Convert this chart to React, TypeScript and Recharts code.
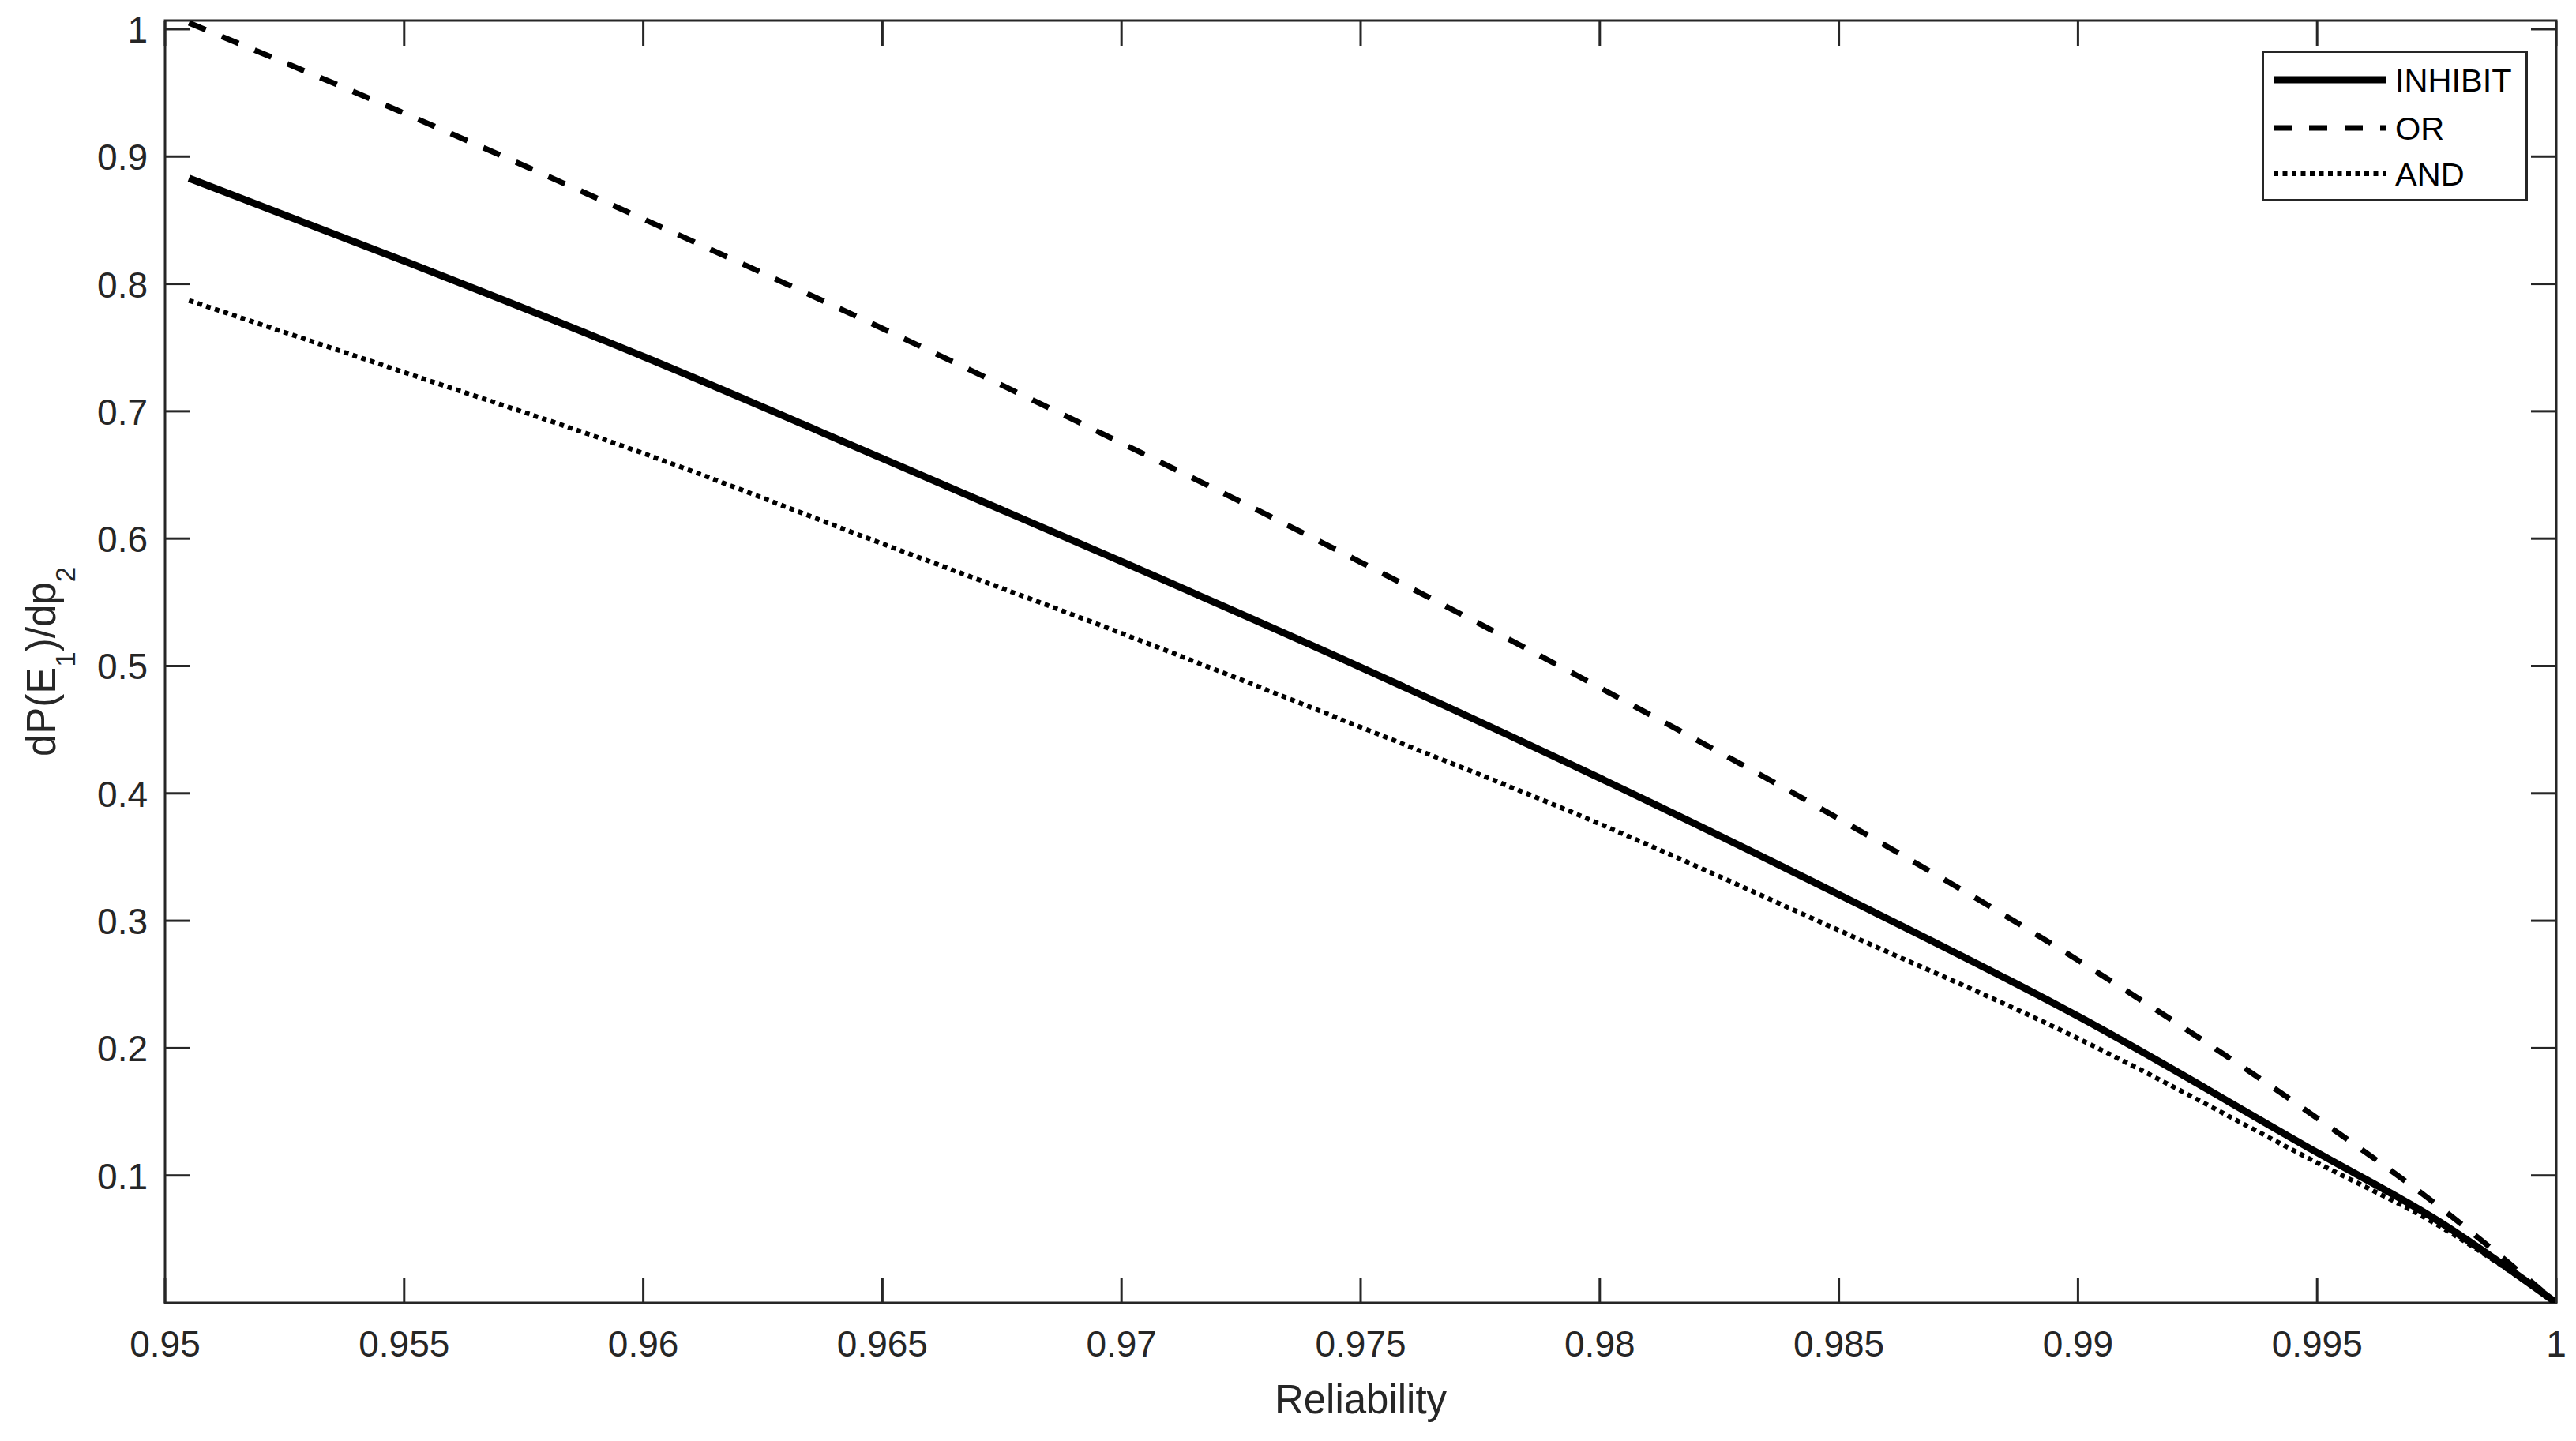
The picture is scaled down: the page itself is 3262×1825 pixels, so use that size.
import React from 'react';
import { LineChart, Line, XAxis, YAxis, ReferenceArea, Legend, Label } from 'recharts';

// ---- data ----
const reliability = [0.9505, 0.955, 0.96, 0.965, 0.97, 0.975, 0.98, 0.985, 0.99, 0.995, 0.9975, 1];
const inhibitValues = [0.883, 0.818, 0.743, 0.663, 0.582, 0.499, 0.412, 0.3205, 0.225, 0.118, 0.065, 0];
const orValues = [1.005, 0.934, 0.851, 0.765, 0.675, 0.5815, 0.483, 0.38, 0.269, 0.145, 0.077, 0];
const andValues = [0.787, 0.7306, 0.667, 0.596, 0.5257, 0.452, 0.376, 0.2925, 0.2076, 0.11, 0.0615, 0];

const xTicks = [0.95, 0.955, 0.96, 0.965, 0.97, 0.975, 0.98, 0.985, 0.99, 0.995, 1];
const xTickLabels = ['0.95', '0.955', '0.96', '0.965', '0.97', '0.975', '0.98', '0.985', '0.99', '0.995', '1'];
const yTicks = [0.1, 0.2, 0.3, 0.4, 0.5, 0.6, 0.7, 0.8, 0.9, 1];
const yTickLabels = ['0.1', '0.2', '0.3', '0.4', '0.5', '0.6', '0.7', '0.8', '0.9', '1'];
const seriesNames = ['INHIBIT', 'OR', 'AND'];

const data = reliability.map((r, i) => ({
  r,
  INHIBIT: inhibitValues[i],
  OR: orValues[i],
  AND: andValues[i],
}));

// ---- layout / style ----
const W = 3262;
const H = 1825;
const MARGIN = { top: 26, right: 25, bottom: 75, left: 59 };
const Y_AXIS_W = 150;
const X_AXIS_H = 100;
const PLOT_LEFT = MARGIN.left + Y_AXIS_W;
const PLOT_TOP = MARGIN.top;
const PLOT_W = W - PLOT_LEFT - MARGIN.right;
const PLOT_H = H - MARGIN.top - MARGIN.bottom - X_AXIS_H;
const TICK_LEN = 32;
const AXIS_COLOR = '#262626';
const FONT = '"Liberation Sans", Arial, Helvetica, sans-serif';

const styles: Record<string, { width: number; dash?: string }> = {
  INHIBIT: { width: 9 },
  OR: { width: 7, dash: '23 22' },
  AND: { width: 6, dash: '6 5.5' },
};

const XTick = (props: any) => {
  const { x, y, payload } = props;
  const idx = xTicks.indexOf(payload.value);
  const label = idx >= 0 ? xTickLabels[idx] : String(payload.value);
  return (
    <g>
      <line x1={x} y1={y} x2={x} y2={y - TICK_LEN} stroke={AXIS_COLOR} strokeWidth={3} />
      <line x1={x} y1={y - PLOT_H} x2={x} y2={y - PLOT_H + TICK_LEN} stroke={AXIS_COLOR} strokeWidth={3} />
      <text x={x} y={y + 68} textAnchor="middle" fontSize={46} fontFamily={FONT} fill={AXIS_COLOR}>
        {label}
      </text>
    </g>
  );
};

const YTick = (props: any) => {
  const { x, y, payload } = props;
  const idx = yTicks.indexOf(payload.value);
  const label = idx >= 0 ? yTickLabels[idx] : String(payload.value);
  return (
    <g>
      <line x1={x} y1={y} x2={x + TICK_LEN} y2={y} stroke={AXIS_COLOR} strokeWidth={3} />
      <line x1={x + PLOT_W} y1={y} x2={x + PLOT_W - TICK_LEN} y2={y} stroke={AXIS_COLOR} strokeWidth={3} />
      <text x={x - 22} y={y + 17} textAnchor="end" fontSize={46} fontFamily={FONT} fill={AXIS_COLOR}>
        {label}
      </text>
    </g>
  );
};

const YLabel = () => {
  const cx = 70;
  const cy = PLOT_TOP + PLOT_H / 2;
  return (
    <text
      x={cx}
      y={cy}
      transform={`rotate(-90, ${cx}, ${cy})`}
      textAnchor="middle"
      fontSize={51}
      fontFamily={FONT}
      fill={AXIS_COLOR}
    >
      <tspan>dP(E</tspan>
      <tspan fontSize={35} dy={25}>1</tspan>
      <tspan dy={-25}>)/dp</tspan>
      <tspan fontSize={35} dy={25}>2</tspan>
    </text>
  );
};

const XLabel = () => (
  <text
    x={PLOT_LEFT + PLOT_W / 2}
    y={1790}
    textAnchor="middle"
    fontSize={51}
    fontFamily={FONT}
    fill={AXIS_COLOR}
  >
    Reliability
  </text>
);

const LEG_W = 337;
const LEG_H = 191;
const legendRows = [37, 98, 156];

const LegendContent = (props: any) => {
  const raw = (props.payload || []) as any[];
  const payload = [...raw].sort(
    (a, b) => seriesNames.indexOf(a.dataKey as string) - seriesNames.indexOf(b.dataKey as string)
  );
  return (
    <svg width={LEG_W} height={LEG_H} style={{ display: 'block' }}>
      <rect x={1.5} y={1.5} width={LEG_W - 3} height={LEG_H - 3} fill="#fff" stroke={AXIS_COLOR} strokeWidth={3} />
      {payload.map((entry: any, i: number) => {
        const key = entry.dataKey as string;
        const st = styles[key];
        const ry = legendRows[i];
        return (
          <g key={key}>
            <line
              x1={15}
              x2={158}
              y1={ry}
              y2={ry}
              stroke="#000"
              strokeWidth={st.width}
              strokeDasharray={st.dash}
            />
            <text x={169} y={ry + 15} fontSize={41.5} fontFamily={FONT} fill="#000">
              {entry.value}
            </text>
          </g>
        );
      })}
    </svg>
  );
};

export default function App() {
  return (
    <div style={{ position: 'absolute', left: 0, top: 0, width: W, height: H, background: '#fff' }}>
      <LineChart width={W} height={H} data={data} margin={MARGIN}>
        <ReferenceArea
          x1={0.95}
          x2={1}
          y1={0}
          y2={1.0068}
          fill="none"
          stroke={AXIS_COLOR}
          strokeWidth={3}
          ifOverflow="visible"
        />
        <XAxis
          dataKey="r"
          type="number"
          domain={[0.95, 1]}
          ticks={xTicks}
          allowDataOverflow
          height={X_AXIS_H}
          axisLine={false}
          tickLine={false}
          tickSize={0}
          tickMargin={0}
          interval={0}
          tick={<XTick />}
        >
          <Label content={<XLabel />} />
        </XAxis>
        <YAxis
          type="number"
          domain={[0, 1.0068]}
          ticks={yTicks}
          allowDataOverflow
          width={Y_AXIS_W}
          axisLine={false}
          tickLine={false}
          tickSize={0}
          tickMargin={0}
          interval={0}
          tick={<YTick />}
        >
          <Label content={<YLabel />} />
        </YAxis>
        <Legend
          layout="vertical"
          align="center"
          verticalAlign="middle"
          content={<LegendContent />}
          wrapperStyle={{ position: 'absolute', left: 2864, top: 64, width: LEG_W, height: LEG_H }}
        />
        {seriesNames.map((name) => (
          <Line
            key={name}
            type="monotone"
            dataKey={name}
            name={name}
            stroke="#000"
            strokeWidth={styles[name].width}
            strokeDasharray={styles[name].dash}
            dot={false}
            activeDot={false}
            isAnimationActive={false}
            legendType="line"
          />
        ))}
      </LineChart>
    </div>
  );
}
